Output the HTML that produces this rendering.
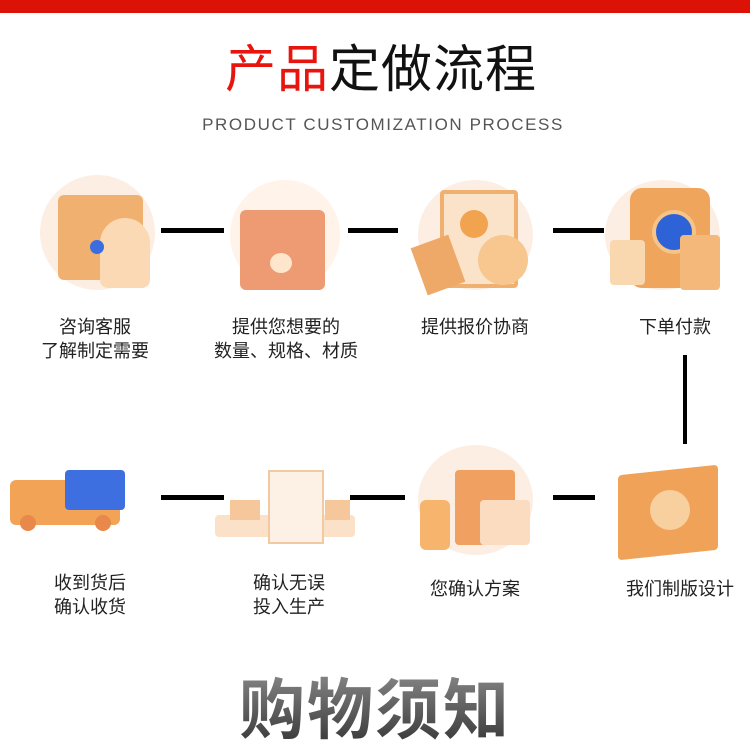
<!DOCTYPE html>
<html><head><meta charset="utf-8"><style>
body{margin:0;width:750px;height:750px;background:#fff;position:relative;overflow:hidden;font-family:"Liberation Sans","Noto Sans CJK SC",sans-serif}
.a{position:absolute}
.bar{left:0;top:0;width:750px;height:13px;background:#dc1207}
.t{left:0;width:750px;text-align:center}
.ln{background:#000}
.lbl{font-size:18px;color:#222;text-align:center;width:180px;line-height:24px}
.c{border-radius:50%;background:#fdeee3}
.r{background:#f2b27a;border-radius:6px}
</style></head><body>
<div class="a bar"></div>
<div class="a t" style="top:40px;left:6px;font-size:51px;line-height:60px;letter-spacing:1px"><span style="color:#e8140e">产品</span><span style="color:#111">定做流程</span></div>
<div class="a t" style="top:115px;left:8px;font-size:17px;color:#555;letter-spacing:1.6px">PRODUCT CUSTOMIZATION PROCESS</div>

<div class="a c" style="left:40px;top:175px;width:115px;height:115px"></div>
<div class="a r" style="left:58px;top:195px;width:85px;height:85px;background:#f0b070"></div>
<div class="a" style="left:100px;top:218px;width:50px;height:70px;border-radius:25px 25px 8px 8px;background:#fbd9b5"></div>
<div class="a" style="left:90px;top:240px;width:14px;height:14px;border-radius:50%;background:#3c6de0"></div>

<div class="a c" style="left:230px;top:180px;width:110px;height:110px;background:#fff3ea"></div>
<div class="a r" style="left:240px;top:210px;width:85px;height:80px;background:#ee9a72"></div>
<div class="a" style="left:270px;top:253px;width:22px;height:20px;background:#fde6cc;border-radius:50%"></div>

<div class="a c" style="left:418px;top:180px;width:115px;height:110px"></div>
<div class="a" style="left:440px;top:190px;width:70px;height:90px;background:#fbe3c9;border:4px solid #f0b070;border-radius:4px"></div>
<div class="a" style="left:460px;top:210px;width:28px;height:28px;border-radius:50%;background:#f2a350"></div>
<div class="a" style="left:418px;top:240px;width:40px;height:50px;background:#eea968;transform:rotate(-20deg)"></div>
<div class="a" style="left:478px;top:235px;width:50px;height:50px;border-radius:50%;background:#f8c68f"></div>

<div class="a c" style="left:605px;top:180px;width:115px;height:110px"></div>
<div class="a r" style="left:630px;top:188px;width:80px;height:100px;background:#efa55b;border-radius:12px"></div>
<div class="a" style="left:652px;top:210px;width:36px;height:36px;border-radius:50%;background:#2e63d8;border:4px solid #f4c488"></div>
<div class="a" style="left:610px;top:240px;width:35px;height:45px;background:#f9d8b0;border-radius:4px"></div>
<div class="a" style="left:680px;top:235px;width:40px;height:55px;background:#f4b97a;border-radius:4px"></div>

<div class="a ln" style="left:161px;top:228px;width:63px;height:5px"></div>
<div class="a ln" style="left:348px;top:228px;width:50px;height:5px"></div>
<div class="a ln" style="left:553px;top:228px;width:51px;height:5px"></div>
<div class="a ln" style="left:683px;top:355px;width:4px;height:89px"></div>
<div class="a ln" style="left:161px;top:495px;width:63px;height:5px"></div>
<div class="a ln" style="left:350px;top:495px;width:55px;height:5px"></div>
<div class="a ln" style="left:553px;top:495px;width:42px;height:5px"></div>

<div class="a lbl" style="left:5px;top:315px">咨询客服<br>了解制定需要</div>
<div class="a lbl" style="left:196px;top:315px">提供您想要的<br>数量、规格、材质</div>
<div class="a lbl" style="left:385px;top:315px">提供报价协商</div>
<div class="a lbl" style="left:585px;top:315px">下单付款</div>

<div class="a" style="left:10px;top:480px;width:110px;height:45px;background:#f2a356;border-radius:6px"></div>
<div class="a" style="left:65px;top:470px;width:60px;height:40px;background:#3d6fe0;border-radius:4px"></div>
<div class="a" style="left:20px;top:515px;width:16px;height:16px;border-radius:50%;background:#e8884a"></div>
<div class="a" style="left:95px;top:515px;width:16px;height:16px;border-radius:50%;background:#e8884a"></div>

<div class="a" style="left:215px;top:515px;width:140px;height:22px;background:#fbe1c7;border-radius:4px"></div>
<div class="a" style="left:268px;top:470px;width:52px;height:70px;background:#fdf0e4;border:2px solid #f2c9a2"></div>
<div class="a" style="left:230px;top:500px;width:30px;height:20px;background:#f6c79a"></div>
<div class="a" style="left:325px;top:500px;width:25px;height:20px;background:#f6c79a"></div>

<div class="a c" style="left:418px;top:445px;width:115px;height:110px"></div>
<div class="a" style="left:455px;top:470px;width:60px;height:75px;background:#f0a060;border-radius:4px"></div>
<div class="a" style="left:420px;top:500px;width:30px;height:50px;background:#f7b46c;border-radius:6px"></div>
<div class="a" style="left:480px;top:500px;width:50px;height:45px;background:#fbdcc0;border-radius:4px"></div>

<div class="a" style="left:618px;top:470px;width:100px;height:85px;background:#efa258;border-radius:4px;transform:skewY(-6deg)"></div>
<div class="a" style="left:650px;top:490px;width:40px;height:40px;border-radius:50%;background:#f8cf9e"></div>

<div class="a lbl" style="left:0px;top:571px">收到货后<br>确认收货</div>
<div class="a lbl" style="left:199px;top:571px">确认无误<br>投入生产</div>
<div class="a lbl" style="left:385px;top:577px">您确认方案</div>
<div class="a lbl" style="left:590px;top:577px">我们制版设计</div>

<div class="a t" style="top:670px;font-size:66px;line-height:80px;font-weight:bold;color:#555;letter-spacing:2px;background:linear-gradient(#888,#333);-webkit-background-clip:text;background-clip:text;-webkit-text-fill-color:transparent">购物须知</div>
</body></html>
